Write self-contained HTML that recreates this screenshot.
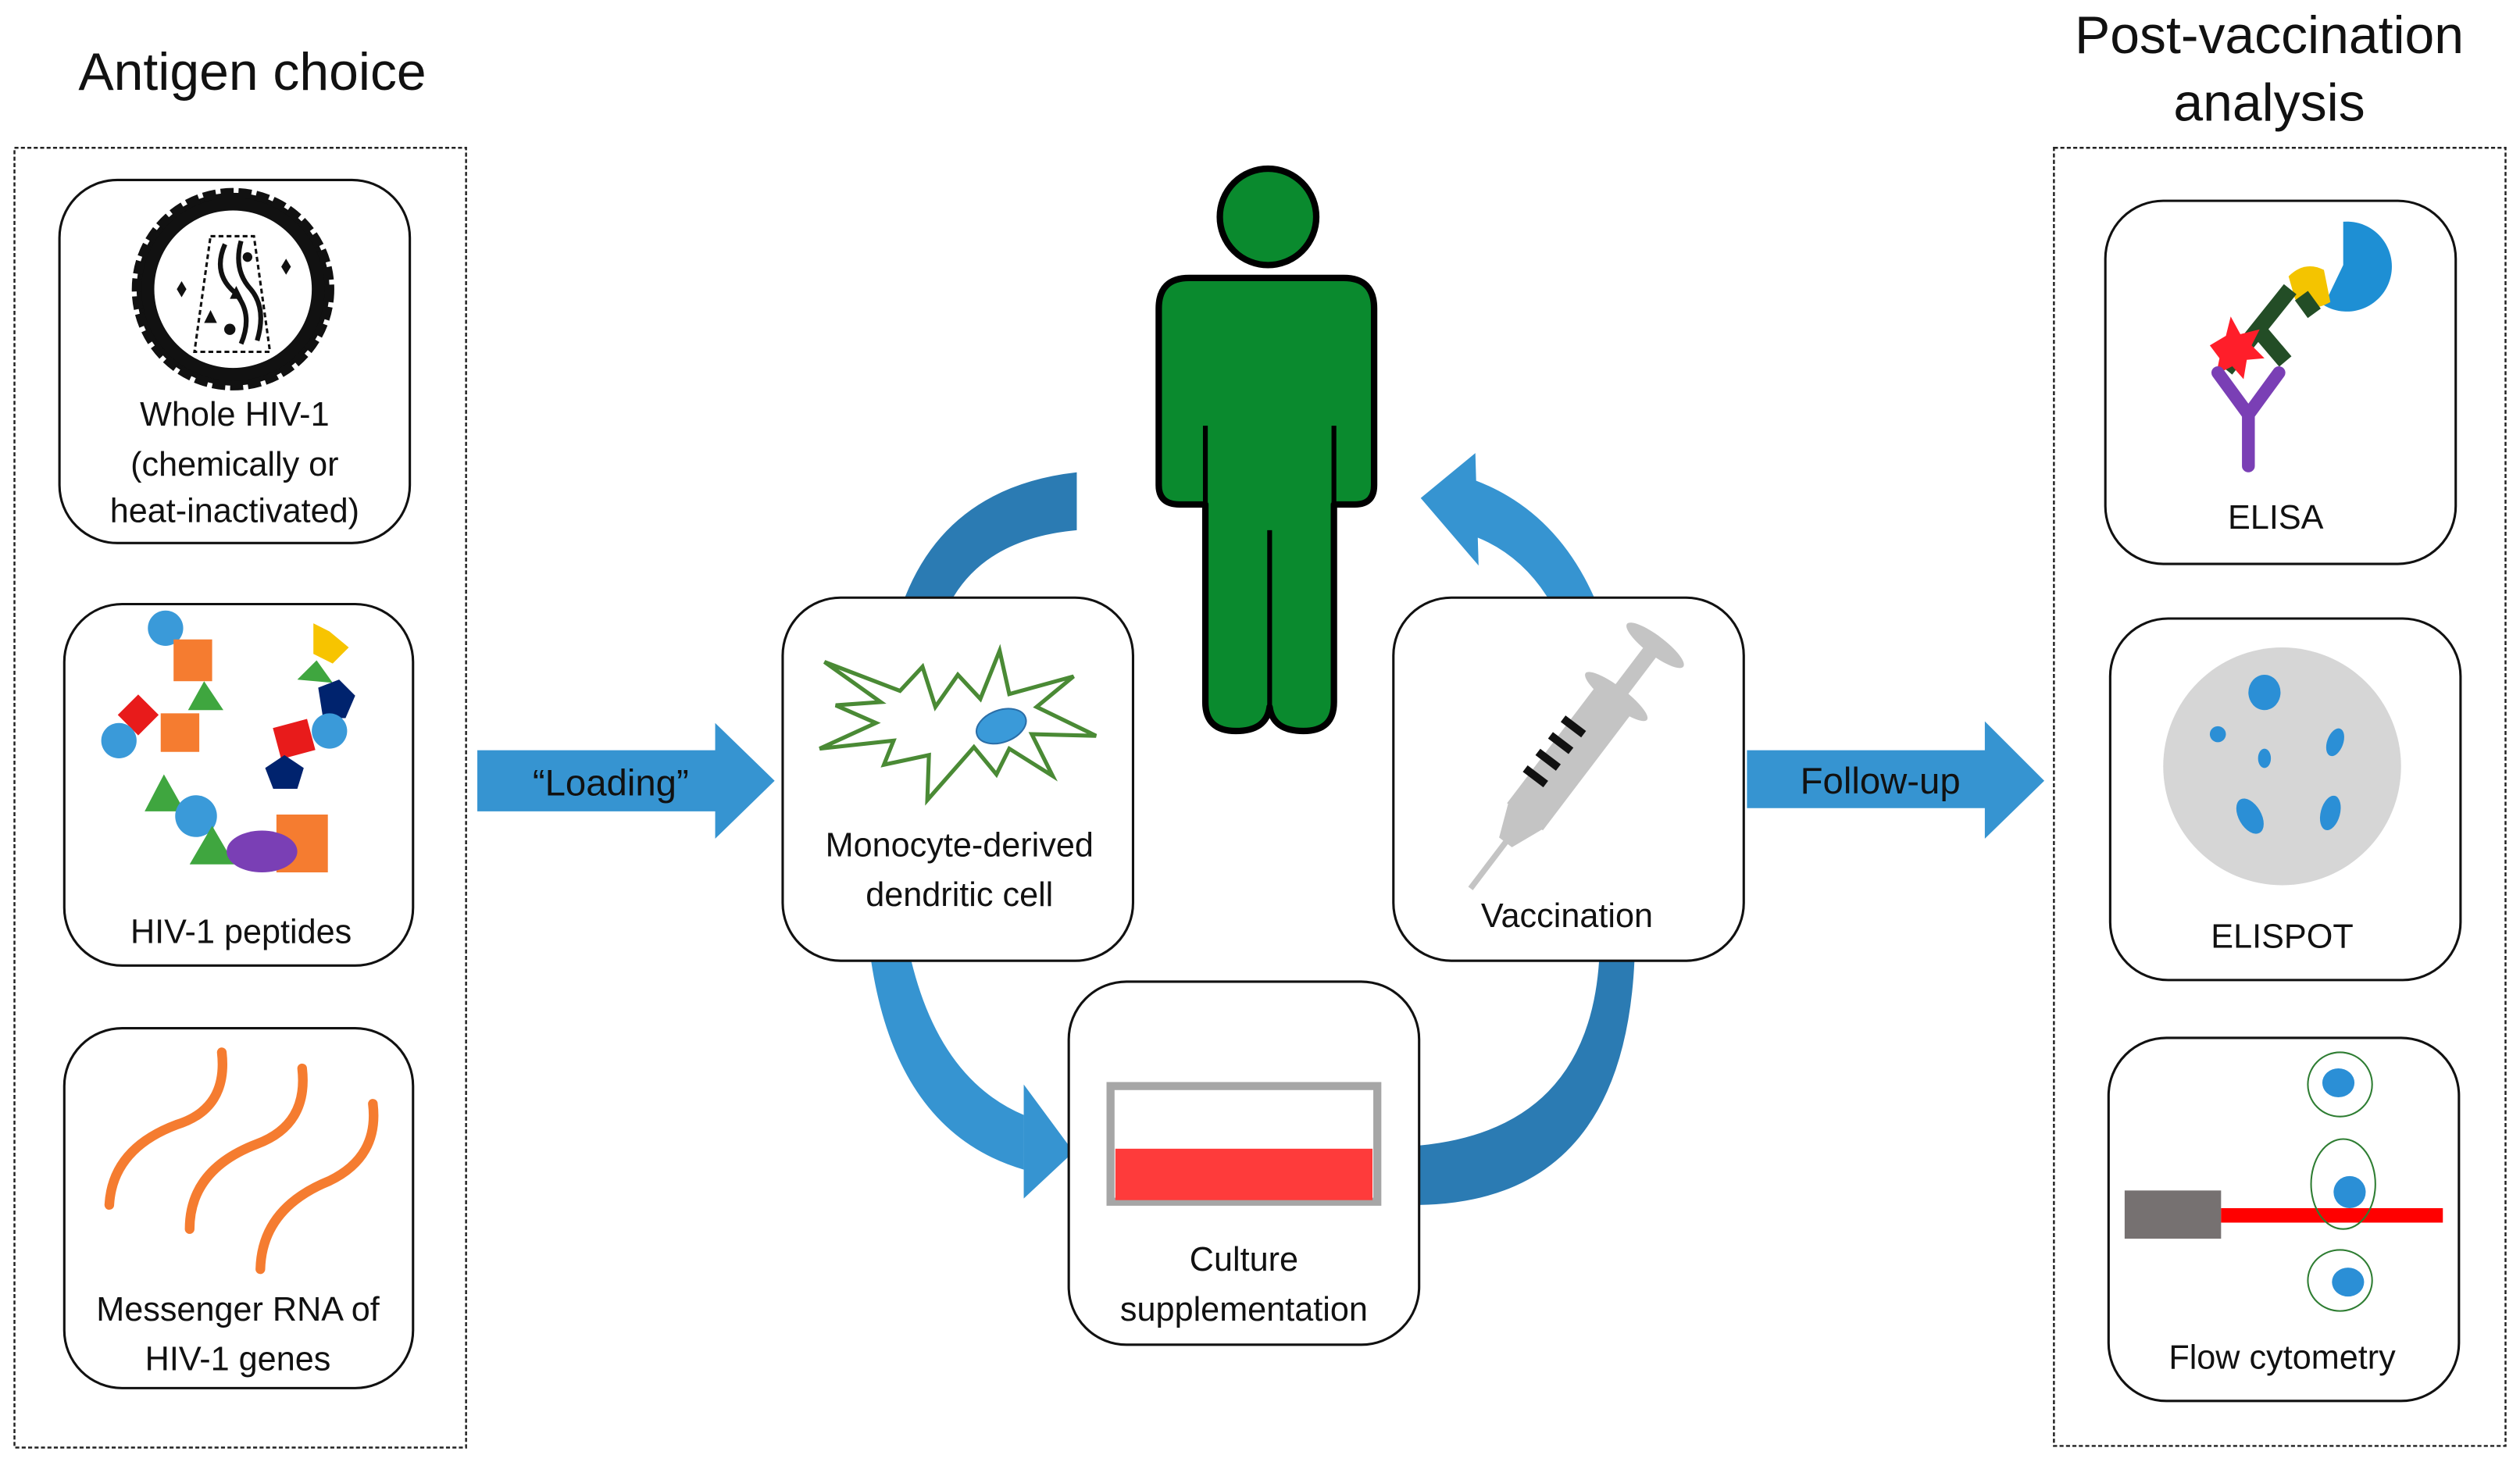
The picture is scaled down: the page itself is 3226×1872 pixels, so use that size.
<!DOCTYPE html>
<html><head><meta charset="utf-8"><style>
html,body{margin:0;padding:0;background:#fff;}
svg{display:block;}
text{font-family:"Liberation Sans",Arial,sans-serif;fill:#111;}
</style></head><body>
<svg width="3226" height="1872" viewBox="0 0 1568 910" preserveAspectRatio="none" xmlns="http://www.w3.org/2000/svg">
<rect width="1568" height="910" fill="#fff"/>
<text x="157" y="56" font-size="33" text-anchor="middle">Antigen choice</text>
<text x="1412" y="33" font-size="33" text-anchor="middle">Post-vaccination</text>
<text x="1412" y="75" font-size="33" text-anchor="middle">analysis</text>
<rect x="9" y="92" width="281" height="809" fill="none" stroke="#222" stroke-width="1.2" stroke-dasharray="2.5,1.5"/>
<rect x="1278" y="92" width="281" height="808" fill="none" stroke="#222" stroke-width="1.2" stroke-dasharray="2.5,1.5"/>
<g fill="#fff" stroke="#111" stroke-width="1.5">
<rect x="37" y="112" width="218" height="226" rx="36"/>
<rect x="40" y="376" width="217" height="225" rx="36"/>
<rect x="40" y="640" width="217" height="224" rx="36"/>
<rect x="1310" y="125" width="218" height="226" rx="36"/>
<rect x="1313" y="385" width="218" height="225" rx="36"/>
<rect x="1312" y="646" width="218" height="226" rx="36"/>
</g>
<g>
<circle cx="145" cy="180" r="60" fill="#111" stroke="#111" stroke-width="6" stroke-dasharray="8,3"/>
<circle cx="145" cy="180" r="57" fill="#111"/>
<circle cx="145" cy="180" r="49" fill="#fff"/>
<path d="M131,147 L158,147 L168,219 L121,219 Z" fill="none" stroke="#111" stroke-width="1.5" stroke-dasharray="3,2"/>
<path d="M140,152 Q132,170 146,182 Q158,195 150,214" fill="none" stroke="#111" stroke-width="3"/>
<path d="M150,150 Q145,168 156,180 Q166,192 160,212" fill="none" stroke="#111" stroke-width="3"/>
<circle cx="154" cy="160" r="3" fill="#111"/>
<circle cx="143" cy="205" r="3.5" fill="#111"/>
<path d="M147,178 l4,8 h-8z M131,193 l4,8 h-8z" fill="#111"/>
<path d="M110,180 l3,-5 l3,5 l-3,5z M175,166 l3,-5 l3,5 l-3,5z" fill="#111"/>
</g>
<text x="146" y="265" font-size="21" text-anchor="middle">Whole HIV-1</text>
<text x="146" y="296" font-size="21" text-anchor="middle">(chemically or</text>
<text x="146" y="325" font-size="21" text-anchor="middle">heat-inactivated)</text>
<g>
<circle cx="103" cy="391" r="11" fill="#3a9ad9"/>
<rect x="108" y="398" width="24" height="26" fill="#f57c30"/>
<path d="M117,442 l10,-18 l12,18z" fill="#3fa63f"/>
<rect x="77" y="436" width="18" height="18" fill="#e81b1b" transform="rotate(45 86 445)"/>
<rect x="100" y="444" width="24" height="24" fill="#f57c30"/>
<circle cx="74" cy="461" r="11" fill="#3a9ad9"/>
<path d="M195,388 l10,5 l12,10 l-10,10 l-12,-6z" fill="#f7c400"/>
<path d="M185,423 l12,-12 l10,14z" fill="#3fa63f"/>
<path d="M198,428 l13,-5 l10,10 l-6,14 l-14,0z" fill="#00236e"/>
<rect x="172" y="450" width="22" height="20" fill="#e81b1b" transform="rotate(-15 183 460)"/>
<circle cx="205" cy="455" r="11" fill="#3a9ad9"/>
<path d="M165,478 l12,-8 l12,8 l-4,13 h-15z" fill="#00236e"/>
<path d="M90,505 l12,-23 l13,23z" fill="#3fa63f"/>
<circle cx="122" cy="508" r="13" fill="#3a9ad9"/>
<path d="M118,538 l14,-24 l14,24z" fill="#3fa63f"/>
<rect x="172" y="507" width="32" height="36" fill="#f57c30"/>
<ellipse cx="163" cy="530" rx="22" ry="13" fill="#7a3fb5"/>
</g>
<text x="150" y="587" font-size="21" text-anchor="middle">HIV-1 peptides</text>
<g fill="none" stroke="#f57c30" stroke-width="6" stroke-linecap="round">
<path d="M138,655 Q142,690 110,700 Q70,715 68,750"/>
<path d="M188,665 Q192,700 160,712 Q118,728 118,765"/>
<path d="M232,687 Q236,720 205,735 Q163,752 162,790"/>
</g>
<text x="148" y="822" font-size="21" text-anchor="middle">Messenger RNA of</text>
<text x="148" y="853" font-size="21" text-anchor="middle">HIV-1 genes</text>
<g fill="#2b7bb3">
<path d="M563,372 Q590,303 670,294 L670,330 Q615,335 593,372 Z"/>
<path d="M918,299 Q968,318 992,372 L963,372 Q946,345 918,334 Z" fill="#3694d1"/>
<path d="M918,282 L884,310 L920,352 Z" fill="#3694d1"/>
<path d="M542,598 Q558,705 637,728 L637,694 Q585,672 567,598 Z" fill="#3694d1"/>
<path d="M637,675 L668,717 L637,746 Z" fill="#3694d1"/>
<path d="M883,713 Q988,703 995,598 L1017,598 Q1010,748 883,750 Z"/>
</g>
<g fill="#fff" stroke="#111" stroke-width="1.5">
<rect x="487" y="372" width="218" height="226" rx="36"/>
<rect x="867" y="372" width="218" height="226" rx="36"/>
<rect x="665" y="611" width="218" height="226" rx="36"/>
</g>
<!-- person -->
<g fill="#0a8a2e" stroke="#000" stroke-width="4" stroke-linejoin="round">
<circle cx="789" cy="135" r="30"/>
<path d="M740,173 L836,173 Q855,173 855,192 L855,302 Q855,314 843,314 L830,314 L830,437 Q830,455 811,455 Q792,455 790,440 Q788,455 769,455 Q750,455 750,437 L750,314 L734,314 Q721,314 721,302 L721,192 Q721,173 740,173 Z"/>
</g>
<path d="M790,330 L790,445 M750,265 L750,316 M830,265 L830,316" stroke="#000" stroke-width="3"/>
<!-- dendritic cell -->
<path d="M513,412 L560,430 L574,415 L582,440 L596,420 L610,435 L622,405 L628,432 L668,421 L645,440 L682,458 L642,457 L655,483 L628,466 L620,482 L606,465 L577,498 L578,470 L550,476 L556,461 L510,466 L545,450 L520,439 L548,437 Z" fill="#fff" stroke="#4a8a35" stroke-width="2.5"/>
<ellipse cx="623" cy="452" rx="16" ry="10" fill="#3a9ad9" stroke="#2a6ea8" stroke-width="1" transform="rotate(-20 623 452)"/>
<text x="597" y="533" font-size="21" text-anchor="middle">Monocyte-derived</text>
<text x="597" y="564" font-size="21" text-anchor="middle">dendritic cell</text>
<!-- syringe -->
<g transform="translate(915,553) rotate(-52.8)" fill="#c4c4c4">
<rect x="0" y="-1.8" width="38" height="3.6"/>
<path d="M36,-5 L58,-14 L58,14 L36,5 Z"/>
<rect x="56" y="-14" width="94" height="28"/>
<ellipse cx="150" cy="0" rx="6" ry="24"/>
<rect x="150" y="-5" width="38" height="10"/>
<ellipse cx="190" cy="0" rx="6" ry="22"/>
<g stroke="#111" stroke-width="5">
<line x1="80" y1="-2" x2="80" y2="-18"/>
<line x1="93" y1="-2" x2="93" y2="-18"/>
<line x1="106" y1="-2" x2="106" y2="-18"/>
<line x1="119" y1="-2" x2="119" y2="-18"/>
</g>
</g>
<text x="975" y="577" font-size="21" text-anchor="middle">Vaccination</text>
<rect x="691" y="676" width="166" height="72" fill="#fff" stroke="#a6a6a6" stroke-width="5"/>
<rect x="694" y="715" width="160" height="32" fill="#fe3b3b"/>
<text x="774" y="791" font-size="21" text-anchor="middle">Culture</text>
<text x="774" y="822" font-size="21" text-anchor="middle">supplementation</text>
<path d="M297,467 L445,467 L445,450 L482,486 L445,522 L445,505 L297,505 Z" fill="#3694d1"/>
<text x="380" y="495" font-size="23" text-anchor="middle" fill="#111">“Loading”</text>
<path d="M1087,467 L1235,467 L1235,449 L1272,486 L1235,522 L1235,503 L1087,503 Z" fill="#3694d1"/>
<text x="1170" y="494" font-size="23" text-anchor="middle" fill="#111">Follow-up</text>
<g>
<path d="M1458,138 A28,28 0 1 1 1446,190 L1458,165 Z" fill="#1e8fd4"/>
<path d="M1424,172 Q1434,162 1446,168 L1450,188 Q1436,196 1428,186 Z" fill="#f4c400"/>
<path d="M1385,230 L1425,180 M1405,205 L1422,225 M1432,184 L1440,195" stroke="#234d26" stroke-width="10" fill="none"/>
<path d="M1375,215 l10,-6 l3,-12 l6,11 l12,-3 l-5,10 l8,8 l-11,1 l-2,12 l-7,-8 l-10,5 l2,-10 z" fill="#ff1e2a"/>
<path d="M1380,232 L1399,258 L1418,232 M1399,258 L1399,290" stroke="#7a3fb5" stroke-width="8" fill="none" stroke-linecap="round"/>
</g>
<text x="1416" y="329" font-size="21" text-anchor="middle">ELISA</text>
<circle cx="1420" cy="477" r="74" fill="#d6d6d6"/>
<g fill="#2b8fd6">
<ellipse cx="1409" cy="431" rx="10" ry="11"/>
<circle cx="1380" cy="457" r="5"/>
<ellipse cx="1409" cy="472" rx="4" ry="6"/>
<ellipse cx="1453" cy="462" rx="5" ry="9" transform="rotate(20 1453 462)"/>
<ellipse cx="1400" cy="508" rx="7" ry="12" transform="rotate(-30 1400 508)"/>
<ellipse cx="1450" cy="506" rx="6" ry="11" transform="rotate(15 1450 506)"/>
</g>
<text x="1420" y="590" font-size="21" text-anchor="middle">ELISPOT</text>
<rect x="1322" y="741" width="60" height="30" fill="#767171"/>
<rect x="1382" y="752" width="138" height="9" fill="#ff0000"/>
<g fill="#fff" stroke="#2e7d32" stroke-width="1">
<ellipse cx="1456" cy="675" rx="20" ry="20"/>
<ellipse cx="1458" cy="737" rx="20" ry="28" fill="none"/>
<ellipse cx="1456" cy="797" rx="20" ry="19"/>
</g>
<g fill="#2b8fd6">
<ellipse cx="1455" cy="674" rx="10" ry="9"/>
<ellipse cx="1462" cy="742" rx="10" ry="10"/>
<ellipse cx="1461" cy="798" rx="10" ry="9"/>
</g>
<text x="1420" y="852" font-size="21" text-anchor="middle">Flow cytometry</text>
</svg>
</body></html>
